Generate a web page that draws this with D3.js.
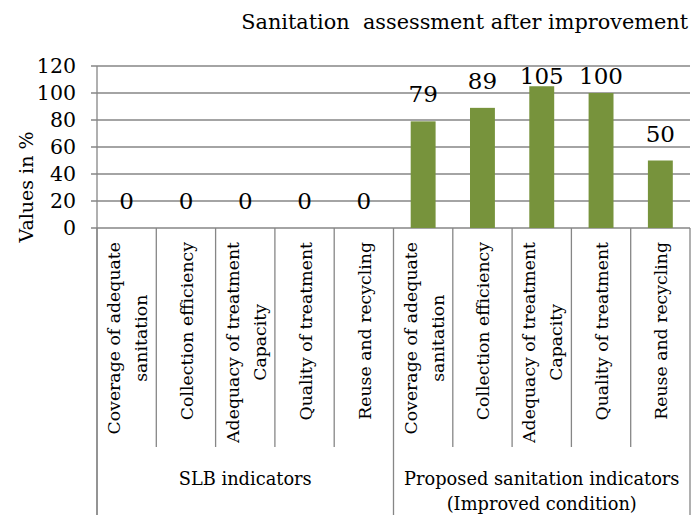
<!DOCTYPE html>
<html><head><meta charset="utf-8">
<script src="https://cdn.jsdelivr.net/npm/d3@7"></script>
<style>body{margin:0;background:#fff}svg{display:block}</style>
</head><body><svg id="c" width="694" height="515"></svg>
<script>
const title = "Sanitation  assessment after improvement";
const yTitle = "Values in %";
const groups = ["SLB indicators", "Proposed sanitation indicators\n(Improved condition)"];
const categories = [
  "Coverage of adequate\nsanitation", "Collection efficiency", "Adequacy of treatment\nCapacity", "Quality of treatment", "Reuse and recycling",
  "Coverage of adequate\nsanitation", "Collection efficiency", "Adequacy of treatment\nCapacity", "Quality of treatment", "Reuse and recycling"
];
const categoryGroup = [0,0,0,0,0,1,1,1,1,1];
const values = [0,0,0,0,0,79,89,105,100,50];
const yTicks = [0,20,40,60,80,100,120];

const FONT = "'DejaVu Serif', serif";
const svg = d3.select("#c").attr("font-family", FONT);
const L = 97, R = 690, T = 66, B = 228;
const ids = d3.range(categories.length);
const x = d3.scaleBand().domain(ids).range([L, R]).paddingInner(0.58).paddingOuter(0.29);
const y = d3.scaleLinear().domain([0, 120]).range([B, T]);
const step = x.step();
const bandLeft = i => L + i * (R - L) / categories.length;
const grid = "#868686";

svg.append("g").selectAll("line").data(yTicks).join("line")
  .attr("x1", L - 6).attr("x2", R).attr("y1", d => y(d)).attr("y2", d => y(d))
  .attr("stroke", grid).attr("stroke-width", 1.3);
svg.append("line").attr("x1", L).attr("x2", L).attr("y1", T).attr("y2", 515).attr("stroke", grid).attr("stroke-width", 1.3);
svg.append("g").selectAll("text").data(yTicks).join("text")
  .attr("x", 76).attr("y", d => y(d)).attr("dy", "0.36em").attr("text-anchor", "end")
  .attr("font-size", 20.5).text(d => d);
svg.append("text").attr("transform", "translate(33,187) rotate(-90)").attr("text-anchor", "middle")
  .attr("font-size", 19).text(yTitle);
svg.append("text").attr("x", 688).attr("y", 29).attr("text-anchor", "end").attr("font-size", 20.8)
  .attr("xml:space", "preserve").style("white-space", "pre").text(title);

svg.append("g").selectAll("rect").data(ids).join("rect")
  .attr("x", i => x(i)).attr("width", x.bandwidth())
  .attr("y", i => y(values[i])).attr("height", i => B - y(values[i]))
  .attr("fill", "#77933C");
// value labels: outside end, kept inside the plot area
svg.append("g").selectAll("text").data(ids).join("text")
  .attr("x", i => x(i) + x.bandwidth() / 2).attr("y", i => Math.max(y(values[i]) - 19, T + 18))
  .attr("text-anchor", "middle").attr("font-size", 23).text(i => values[i]);

const seps = d3.range(categories.length + 1);
svg.append("g").selectAll("line").data(seps).join("line")
  .attr("x1", i => bandLeft(i)).attr("x2", i => bandLeft(i))
  .attr("y1", B).attr("y2", i => (i % 5 === 0) ? 515 : 447)
  .attr("stroke", grid).attr("stroke-width", 1.3);

const lh = 27;
ids.forEach(i => {
  const lines = categories[i].split("\n");
  const cx = bandLeft(i) + step / 2;
  const g = svg.append("g");
  const texts = lines.map((ln, k) => g.append("text")
    .attr("text-anchor", "middle").attr("font-size", 17.3).text(ln));
  const maxLen = d3.max(texts, t => t.node().getComputedTextLength());
  const cy = 242 + maxLen / 2;
  texts.forEach((t, k) => {
    const off = (k - (lines.length - 1) / 2) * lh;
    t.attr("transform", `translate(${cx + off + 7},${cy}) rotate(-90)`);
  });
});

groups.forEach((gname, gi) => {
  const idx = ids.filter(i => categoryGroup[i] === gi);
  const cx = (bandLeft(idx[0]) + bandLeft(idx[idx.length - 1] + 1)) / 2;
  gname.split("\n").forEach((ln, k) => {
    svg.append("text").attr("x", cx).attr("y", 485 + k * 25).attr("text-anchor", "middle")
      .attr("font-size", 17.8).text(ln);
  });
});
</script></body></html>
